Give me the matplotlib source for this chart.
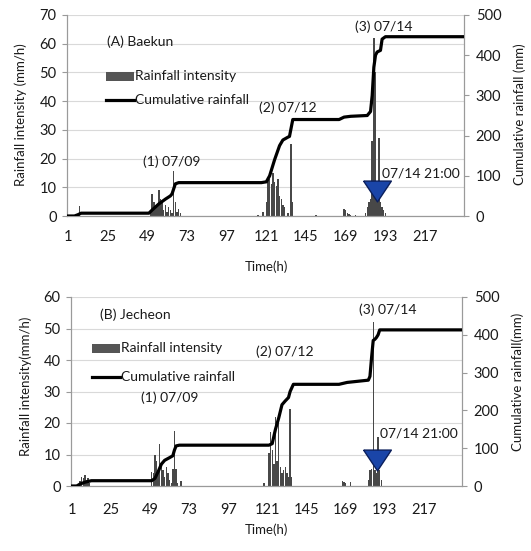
import matplotlib
matplotlib.use("Agg")
import matplotlib.pyplot as plt
from matplotlib.patches import Rectangle
from matplotlib.lines import Line2D

plt.rcParams['font.family'] = ['Lato', 'DejaVu Sans']

# ---------------- data ----------------
xtick_labels = [1, 25, 49, 73, 97, 121, 145, 169, 193, 217]

# (A) Baekun - hourly rainfall intensity (mm/h)
a_bar_hours = [8, 51, 52, 53, 54, 55, 56, 57, 58, 59, 60, 61, 62, 63, 64, 65, 66, 67, 68, 69,
               116, 119, 121, 122, 123, 124, 125, 126, 127, 128, 129, 130, 131, 132, 134, 136, 137,
               151, 168, 169, 170, 171, 172, 175,
               181, 182, 183, 184, 185, 186, 187, 188, 189, 190, 191, 192, 193]
a_bar_values = [3.5, 1, 7.5, 5, 3, 4, 9, 6, 5, 2, 4, 1.5, 3, 2, 1, 15.5, 5, 1.5, 2.5, 1,
                0.5, 1.5, 5, 12.5, 13, 11, 15, 12, 10.5, 13, 7, 6, 4, 3, 1, 25, 5,
                0.4, 2.5, 2, 1, 0.8, 0.5, 0.3,
                1, 3, 5, 6, 26, 62, 50, 6, 27, 5, 3, 2, 1]
# (A) cumulative rainfall (mm)
a_cum_hours = [1, 5, 7, 9, 50, 52, 56, 60, 63, 64, 66, 68, 118, 121, 123, 126, 129, 131, 134,
               135, 137, 165, 168, 172, 182, 184, 185, 186, 187, 188, 190, 191, 193, 240]
a_cum_values = [0, 0, 3, 7, 7, 15, 30, 42, 50, 55, 80, 83, 83, 85, 100, 140, 175, 189, 196,
                198, 240, 240, 246, 248, 250, 260, 300, 370, 400, 408, 412, 440, 446, 446]

# (B) Jecheon - hourly rainfall intensity (mm/h)
b_bar_hours = [6, 7, 8, 9, 10, 11, 12,
               50, 51, 52, 53, 54, 55, 56, 57, 58, 59, 60, 61, 62, 63, 64, 65, 66, 68,
               119, 122, 123, 124, 125, 126, 127, 128, 129, 130, 131, 132, 133, 134, 135, 136,
               167, 168, 169, 172,
               183, 184, 185, 186, 187, 188, 189, 190, 191]
b_bar_values = [1.5, 3, 2.5, 3.5, 2, 2.5, 1,
                4.5, 4, 10, 8, 5, 13.3, 6, 5, 3, 6, 4, 2, 1, 5.5, 17.5, 5.5, 1, 1.5,
                1, 10.5, 17, 11.5, 7, 22, 8, 22, 6, 4, 5, 6, 4, 3, 24.5, 3,
                1.5, 1.2, 1, 1.2,
                2, 5, 5.5, 52, 5, 4, 15.5, 5, 2]
# (B) cumulative rainfall (mm)
b_cum_hours = [1, 4, 6, 9, 13, 50, 52, 54, 56, 58, 61, 63, 64, 65, 67, 122, 124, 126, 128, 130,
               132, 134, 135, 137, 165, 170, 183, 184, 185, 186, 187, 188, 189, 190, 240]
b_cum_values = [0, 0, 5, 10, 14, 14, 20, 38, 58, 68, 75, 80, 95, 106, 108, 108, 112, 150, 180, 215,
                225, 234, 250, 269, 269, 274, 280, 290, 340, 385, 388, 393, 400, 413, 413]

# marker: 07/14 21:00
a_marker = (188, 62)
b_marker = (188.5, 70)

W, H = 531, 551
fig = plt.figure(figsize=(W / 100, H / 100), dpi=100)

TXT = '#1a1a1a'
BAR = '#484848'
GRID = '#d9d9d9'
SPINE = '#9a9a9a'
FS = 10.5      # tick labels
FA = 10        # annotations
FL = 9.5       # axis titles

TRI = [(-1, 0.75), (1, 0.75), (0, -0.75), (-1, 0.75)]


def px(x, y):
    return x / W, 1 - y / H


def panel(rect, bh, bv, ch, cv, ymax, yticks, marker, xpad):
    ax = fig.add_axes(rect)
    ax.bar(bh, bv, width=0.85, color=BAR, zorder=2)
    ax.set_xlim(0.5, 240.5)
    ax.set_ylim(0, ymax)
    ax.set_yticks(yticks)
    ax.set_xticks(xtick_labels)
    ax.set_xticklabels([str(t) for t in xtick_labels])
    ax.grid(axis='y', color=GRID, lw=0.8, zorder=0)
    ax.set_axisbelow(True)
    ax.spines['top'].set_visible(False)
    for s in ['left', 'right', 'bottom']:
        ax.spines[s].set_color(SPINE)
        ax.spines[s].set_linewidth(0.8)
    ax.tick_params(axis='y', length=3.5, color=SPINE, labelsize=FS, labelcolor=TXT, pad=4)
    ax.tick_params(axis='x', length=0, labelsize=FS, labelcolor=TXT, pad=xpad)
    ax2 = ax.twinx()
    ax2.plot(ch, cv, color='black', lw=2.3, zorder=3, solid_joinstyle='round')
    ax2.plot([marker[0]], [marker[1]], marker=TRI, markersize=20, markerfacecolor='#1a45a8',
             markeredgecolor='#0b1f5c', markeredgewidth=1.0, zorder=5, linestyle='none')
    ax2.set_ylim(0, 500)
    ax2.set_yticks([0, 100, 200, 300, 400, 500])
    ax2.spines['top'].set_visible(False)
    for s in ['left', 'right', 'bottom']:
        ax2.spines[s].set_color(SPINE)
        ax2.spines[s].set_linewidth(0.8)
    ax2.tick_params(axis='y', length=3.5, color=SPINE, labelsize=FS, labelcolor=TXT, pad=5)
    return ax, ax2


def txt(x, y, s, ha='left', fs=FA, **kw):
    fx, fy = px(x, y)
    fig.text(fx, fy, s, ha=ha, va='center', fontsize=fs, color=TXT, **kw)


def legend(x0, x1, y1, y2):
    fx0, fy1 = px(x0, y1 + 4.5)
    fx1, _ = px(x1, 0)
    fig.patches.append(Rectangle((fx0, fy1), fx1 - fx0, 9 / H, transform=fig.transFigure,
                                 facecolor='#555555', edgecolor='none'))
    txt(x1 + 1, y1, 'Rainfall intensity')
    fx0, fy2 = px(x0, y2)
    fig.lines.append(Line2D([fx0, fx1], [fy2, fy2], transform=fig.transFigure,
                            color='black', lw=2.3))
    txt(x1 + 1, y2, 'Cumulative rainfall')


# ---------- panel A ----------
l, b = px(67, 216)
r, t = px(464, 15)
panel([l, b, r - l, t - b], a_bar_hours, a_bar_values, a_cum_hours, a_cum_values,
      70, [0, 10, 20, 30, 40, 50, 60, 70], a_marker, 10)
txt(107, 42, '(A) Baekun')
legend(106, 134, 76, 100)
txt(172, 162, '(1) 07/09', ha='center')
txt(288, 108, '(2) 07/12', ha='center')
txt(384, 27, '(3) 07/14', ha='center')
txt(460, 173, '07/14 21:00', ha='right')
txt(266, 267, 'Time(h)', ha='center', fs=FL)
txt(21, 115, 'Rainfall intensity (mm/h)', ha='center', rotation=90, fs=FL)
txt(520, 114, 'Cumulative rainfall (mm)', ha='center', rotation=90, fs=FL)

# ---------- panel B ----------
l, b = px(71, 486)
r, t = px(462, 297)
panel([l, b, r - l, t - b], b_bar_hours, b_bar_values, b_cum_hours, b_cum_values,
      60, [0, 10, 20, 30, 40, 50, 60], b_marker, 12)
txt(100, 315, '(B) Jecheon')
legend(92, 120, 348, 377)
txt(170, 398, '(1) 07/09', ha='center')
txt(285, 352, '(2) 07/12', ha='center')
txt(388, 310, '(3) 07/14', ha='center')
txt(458, 433, '07/14 21:00', ha='right')
txt(266, 530, 'Time(h)', ha='center', fs=FL)
txt(26, 386, 'Rainfall intensity(mm/h)', ha='center', rotation=90, fs=FL)
txt(518, 382, 'Cumulative rainfall(mm)', ha='center', rotation=90, fs=FL)

fig.savefig('out.png', dpi=100)
